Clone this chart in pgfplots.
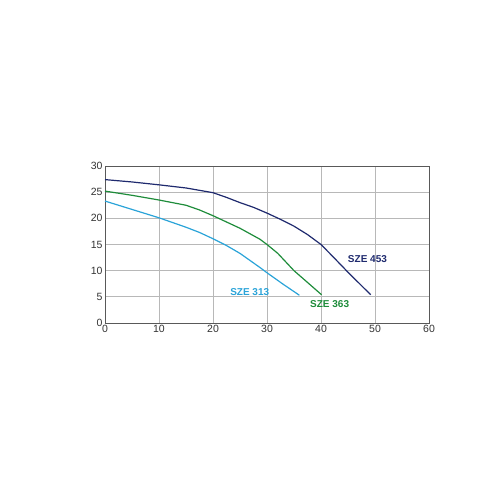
\documentclass[border=0pt]{standalone}
\usepackage{pgfplots}
\pgfplotsset{compat=1.18}
\usepackage{fontspec}
\setmainfont{Liberation Sans}
\definecolor{navy}{HTML}{1F2A6E}
\definecolor{sgreen}{HTML}{1E8C3A}
\definecolor{sblue}{HTML}{2AA3D8}
\definecolor{gridc}{HTML}{B8B8B8}
\definecolor{txt}{HTML}{333333}
\begin{document}
\begin{tikzpicture}
\path[use as bounding box] (0,0) rectangle (500pt,500pt);
\begin{axis}[
  at={(105pt,177pt)}, anchor=south west,
  scale only axis, width=324pt, height=157pt,
  xmin=0, xmax=60, ymin=0, ymax=30,
  xtick={0,10,...,60}, ytick={0,5,...,30},
  grid=major,
  major grid style={gridc, line width=0.9pt},
  axis line style={black!65, line width=0.9pt},
  tick style={draw=none},
  tick label style={font=\fontsize{10.5}{12}\selectfont, text=txt},
  /pgf/number format/assume math mode=true,
  xticklabel style={yshift=1pt},
  yticklabel style={xshift=1pt},
  clip=false,
]
\addplot[navy, line width=1.2pt, line join=round] coordinates {
 (0,27.4) (5,26.95) (10,26.4) (15,25.8) (20,24.9) (22.5,24.0) (25,23.0) (27.5,22.1) (30,21.0) (32.5,19.8) (35,18.5) (37.5,16.9) (40,15.0) (42,12.9) (45,9.7) (49.2,5.4)};
\addplot[sgreen, line width=1.2pt, line join=round] coordinates {
 (0,25.2) (5,24.4) (10,23.5) (15,22.5) (17.5,21.6) (20,20.5) (22.5,19.3) (25,18.1) (28.7,16.0) (30,15.0) (32,13.3) (35,10.0) (38,7.3) (40.1,5.4)};
\addplot[sblue, line width=1.2pt, line join=round] coordinates {
 (0,23.3) (5,21.7) (10,20.1) (15,18.3) (17.5,17.3) (20,16.1) (22.5,14.8) (25,13.3) (28.7,10.6) (30,9.6) (33,7.4) (36,5.3)};
\node[font=\bfseries\fontsize{10}{12}\selectfont, text=navy] at (axis cs:48.6,12.3) {SZE 453};
\node[font=\bfseries\fontsize{10}{12}\selectfont, text=sgreen] at (axis cs:41.6,3.6) {SZE 363};
\node[font=\bfseries\fontsize{10}{12}\selectfont, text=sblue] at (axis cs:26.8,6.0) {SZE 313};
\end{axis}
\end{tikzpicture}
\end{document}
